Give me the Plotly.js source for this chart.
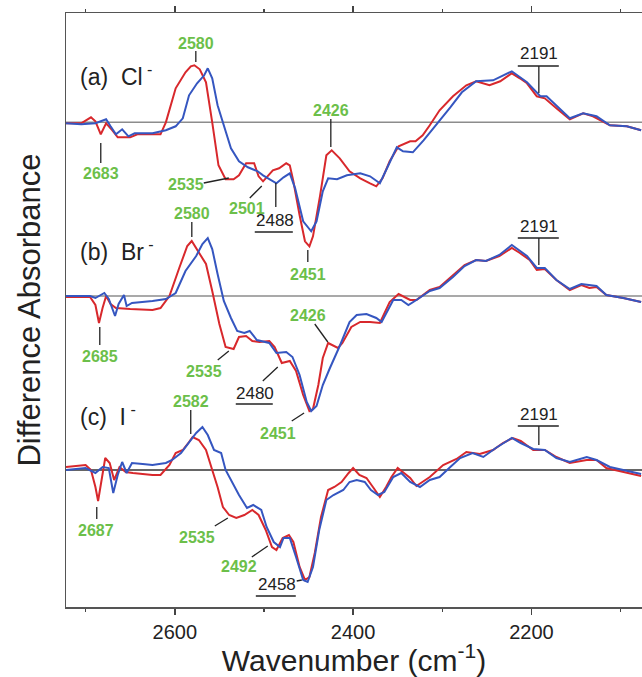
<!DOCTYPE html>
<html>
<head>
<meta charset="utf-8">
<script src="https://cdn.plot.ly/plotly-3.0.1.min.js"></script>
<style>html,body{margin:0;padding:0;background:#fff}#chart{width:642px;height:677px}</style>
</head>
<body>
<div id="chart"></div>
<script>
// ---------- data (wavenumber in cm-1, difference absorbance in arbitrary units) ----------
const offsetA = 484.7, offsetB = 311, offsetC = 137;

const wnA_red = [2722,2705,2694,2689,2683,2677,2670,2664,2650,2642,2616,2610,2599,2588,2582,2578,2572,2565,2558,2551,2543,2534,2528,2520,2511,2506,2501,2495,2490,2483,2475,2471,2467,2460,2454,2449,2445,2437,2430,2424,2415,2404,2392,2381,2374,2367,2359,2349,2336,2330,2322,2314,2303,2288,2273,2262,2247,2235,2222,2213,2205,2194,2185,2172,2157,2142,2131,2112,2093,2077];
const absA_red = [-1,-1,5,1,-12,-1,-8,-15,-15,-12,-12,0,34,50,56,57,53,40,0,-43,-57,-57,-53,-41,-41,-54,-59,-53,-48,-46,-41,-43,-59,-93,-119,-124,-114,-73,-33,-28,-36,-49,-56,-61,-64,-56,-39,-24,-19,-19,-13,-3,12,26,37,41,37,41,49,44,39,26,24,14,3,9,6,-3,-4,-8];

const wnA_blue = [2722,2705,2689,2677,2672,2666,2659,2652,2645,2625,2610,2599,2591,2584,2575,2567,2563,2558,2552,2545,2537,2528,2518,2507,2501,2486,2478,2471,2465,2456,2447,2441,2434,2428,2418,2407,2392,2381,2370,2362,2351,2344,2333,2321,2306,2291,2278,2262,2243,2222,2205,2190,2183,2157,2142,2127,2112,2093,2077];
const absA_blue = [-1,-2,-1,3,-4,-12,-7,-14,-11,-11,-8,-4,4,27,39,47,54,44,17,-2,-26,-39,-45,-49,-53,-61,-55,-51,-66,-99,-109,-99,-69,-56,-57,-53,-51,-54,-61,-46,-25,-29,-30,-18,-2,15,30,41,42,51,40,26,26,4,9,6,-3,-4,-8];

const wnB_red = [2722,2695,2689,2685,2681,2677,2672,2666,2650,2625,2616,2606,2595,2586,2581,2575,2565,2558,2550,2543,2534,2528,2520,2513,2505,2494,2488,2480,2471,2464,2456,2449,2445,2439,2434,2428,2417,2412,2402,2392,2381,2370,2359,2349,2336,2329,2321,2314,2303,2288,2275,2262,2251,2236,2222,2213,2202,2194,2185,2172,2157,2144,2135,2127,2116,2097,2077];
const absB_red = [-1,-1,-9,-27,-12,0,-8,-12,-13,-14,-12,0,28,50,55,46,32,5,-28,-51,-53,-41,-40,-45,-46,-45,-51,-67,-65,-75,-99,-115,-113,-89,-62,-47,-52,-47,-31,-26,-26,-27,-6,2,-4,-4,1,6,9,21,31,36,35,40,48,43,36,26,27,16,6,11,8,9,1,-2,-6];

const wnB_blue = [2722,2695,2689,2679,2674,2667,2663,2657,2654,2648,2625,2610,2599,2588,2576,2569,2563,2558,2552,2545,2537,2530,2522,2516,2508,2494,2486,2475,2468,2460,2452,2447,2441,2434,2426,2415,2404,2396,2385,2374,2368,2355,2346,2338,2329,2314,2303,2288,2275,2262,2251,2236,2222,2205,2194,2185,2172,2157,2144,2127,2116,2097,2077];
const absB_blue = [0,0,-2,3,-3,-20,-8,1,-10,-7,-5,-3,3,25,40,52,58,47,22,-5,-22,-35,-37,-35,-44,-47,-57,-56,-61,-79,-106,-115,-110,-89,-72,-50,-26,-19,-18,-22,-26,-4,-4,-9,-4,5,8,19,30,36,35,41,51,40,28,28,16,7,12,10,1,-2,-6];

const wnC_red = [2722,2700,2694,2689,2686,2682,2678,2673,2668,2662,2655,2647,2625,2616,2606,2599,2591,2584,2580,2573,2565,2558,2552,2546,2539,2531,2522,2513,2506,2498,2491,2486,2479,2472,2467,2460,2454,2449,2443,2436,2428,2421,2413,2405,2400,2393,2385,2377,2370,2363,2357,2350,2343,2336,2329,2322,2314,2299,2284,2273,2258,2243,2232,2221,2212,2198,2185,2172,2157,2138,2127,2116,2097,2077];
const absC_red = [3,5,0,-17,-31,-8,12,7,-10,3,-2,-3,-5,-5,5,17,20,28,33,30,20,0,-17,-37,-45,-48,-45,-40,-45,-60,-77,-80,-68,-65,-72,-97,-110,-107,-83,-47,-20,-17,-12,-3,2,-5,-8,-18,-27,-17,-7,2,-3,-8,-16,-12,-7,5,11,18,16,20,27,32,29,20,20,13,7,10,10,2,-2,-6];

const wnC_blue = [2722,2700,2689,2681,2674,2669,2664,2659,2654,2648,2636,2625,2610,2603,2593,2584,2576,2569,2563,2556,2548,2543,2535,2528,2519,2512,2503,2497,2489,2482,2478,2471,2464,2456,2451,2445,2438,2430,2422,2411,2404,2396,2387,2380,2372,2365,2355,2346,2336,2325,2314,2303,2291,2280,2266,2254,2240,2229,2222,2212,2198,2185,2172,2157,2138,2127,2112,2097,2077];
const absC_blue = [0,2,-3,3,2,-23,-5,8,-3,7,6,5,7,10,17,27,37,43,35,20,17,0,-13,-25,-38,-35,-40,-57,-72,-77,-68,-68,-87,-110,-112,-97,-60,-30,-25,-20,-12,-10,-12,-20,-25,-22,-7,-3,-12,-17,-10,-7,3,12,17,13,22,28,32,27,21,20,12,8,13,10,3,0,-4];

const xTickVals = [2600, 2400, 2200];
const xTickText = ['2600', '2400', '2200'];

// ---------- build ----------
const RED = '#d8282c', BLUE = '#3556c0', GREEN = '#6cbf4a', DARK = '#222';
const FONT = 'Liberation Sans, Arial, sans-serif';
function shift(arr, off) { return arr.map(v => v + off); }
function tr(x, y, off, color) {
  return {x: x, y: shift(y, off), type: 'scatter', mode: 'lines',
          line: {color: color, width: 2}, hoverinfo: 'skip', showlegend: false};
}
const data = [
  tr(wnA_red, absA_red, offsetA, RED), tr(wnA_blue, absA_blue, offsetA, BLUE),
  tr(wnB_red, absB_red, offsetB, RED), tr(wnB_blue, absB_blue, offsetB, BLUE),
  tr(wnC_red, absC_red, offsetC, RED), tr(wnC_blue, absC_blue, offsetC, BLUE)
];

const shapes = [];
function base(y, color) {
  shapes.push({type: 'line', xref: 'paper', yref: 'y', x0: 0, x1: 1, y0: y, y1: y,
               line: {color: color, width: 1.5}, layer: 'below'});
}
base(offsetA, '#8c8c8c'); base(offsetB, '#8c8c8c'); base(offsetC, '#333');
function seg(x0, y0, x1, y1) {
  shapes.push({type: 'line', xref: 'x', yref: 'y', x0: x0, y0: y0, x1: x1, y1: y1,
               line: {color: '#222', width: 1.3}});
}
const annotations = [];
function lab(text, x, y, color, bold, size, anchor) {
  annotations.push({text: bold ? '<b>' + text + '</b>' : text, x: x, y: y, xref: 'x', yref: 'y',
    showarrow: false, xanchor: anchor || 'center', yanchor: 'middle',
    font: {family: FONT, size: size || 16, color: color}});
}
// panel (a)
lab('(a)  Cl<sup> -</sup>', 2708, 532, DARK, false, 23, 'left');
lab('2580', 2576.4, 564, GREEN, true); seg(2576.4, 556, 2576.4, 545);
lab('2683', 2683, 434, GREEN, true); seg(2683, 464, 2683, 444);
lab('2535', 2587.7, 423, GREEN, true); seg(2567.5, 424, 2539.4, 429);
lab('2501', 2518.5, 399, GREEN, true); seg(2515.9, 409, 2502.4, 421);
lab('2488', 2487.8, 387, DARK, false, 17); seg(2510.3, 375, 2467.6, 375); seg(2486.7, 424, 2486.7, 400);
lab('2426', 2425, 497, GREEN, true); seg(2425, 488, 2425, 460);
lab('2451', 2450.8, 333, GREEN, true); seg(2450.8, 357, 2450.8, 345);
lab('2191', 2191.7, 554, DARK, false, 17); seg(2215.3, 541, 2169.3, 541); seg(2191.7, 541, 2191.7, 514);
// panel (b)
lab('(b)  Br<sup> -</sup>', 2708, 357, DARK, false, 23, 'left');
lab('2580', 2580.9, 394, GREEN, true); seg(2580.9, 385, 2580.9, 370);
lab('2685', 2684.1, 251, GREEN, true); seg(2684.1, 280, 2684.1, 262);
lab('2535', 2567.5, 236, GREEN, true); seg(2551.8, 247, 2539.4, 256);
lab('2480', 2510.3, 214, DARK, false, 17); seg(2531.6, 203, 2490.1, 203); seg(2501.3, 226, 2484.5, 240);
lab('2451', 2484.5, 174, GREEN, true); seg(2468.8, 186, 2455, 194);
lab('2426', 2450.8, 292, GREEN, true); seg(2443, 283, 2428.4, 265);
lab('2191', 2191.7, 381, DARK, false, 17); seg(2215.3, 369, 2169.3, 369); seg(2191.7, 369, 2191.7, 342);
// panel (c)
lab('(c)  I<sup> -</sup>', 2708, 192, DARK, false, 23, 'left');
lab('2582', 2582.1, 206, GREEN, true); seg(2582.1, 197, 2582.1, 173);
lab('2687', 2688.6, 77, GREEN, true); seg(2687.5, 100, 2687.5, 88);
lab('2535', 2575.3, 70, GREEN, true); seg(2555.1, 81, 2540.5, 89);
lab('2492', 2528.2, 41, GREEN, true); seg(2513.6, 50, 2495.7, 61);
lab('2458', 2485.6, 23, DARK, false, 17); seg(2509.1, 11, 2464.3, 11); seg(2463.2, 26, 2457.5, 27);
lab('2191', 2191.7, 193, DARK, false, 17); seg(2215.3, 181, 2169.3, 181); seg(2191.7, 181, 2191.7, 162);

const layout = {
  width: 642, height: 677,
  margin: {l: 66, r: 0, t: 13, b: 70},
  paper_bgcolor: '#fff', plot_bgcolor: '#fff',
  font: {family: FONT, color: '#222'},
  showlegend: false,
  xaxis: {
    range: [2722, 2076], showgrid: false, zeroline: false,
    showline: true, linecolor: '#555', linewidth: 1.5, mirror: 'ticks',
    ticks: 'outside', ticklen: 6, tickwidth: 1.5, tickcolor: '#444',
    tickvals: xTickVals, ticktext: xTickText,
    tickfont: {size: 20, color: '#222'},
    minor: {tickvals: [2700, 2500, 2300, 2100], ticks: 'outside', ticklen: 3, tickwidth: 1.5, tickcolor: '#444', showgrid: false},
    title: {text: 'Wavenumber (cm<sup>-1</sup>)', font: {size: 30, color: '#222'}, standoff: 4}
  },
  yaxis: {
    range: [0, 594], showgrid: false, zeroline: false,
    showline: true, linecolor: '#555', linewidth: 1.5, mirror: false,
    ticks: '', showticklabels: false,
    title: {text: 'Difference Absorbance', font: {size: 31, color: '#222'}, standoff: 14}
  },
  shapes: shapes,
  annotations: annotations
};
Plotly.newPlot('chart', data, layout, {staticPlot: true, displayModeBar: false});
</script>
</body>
</html>
